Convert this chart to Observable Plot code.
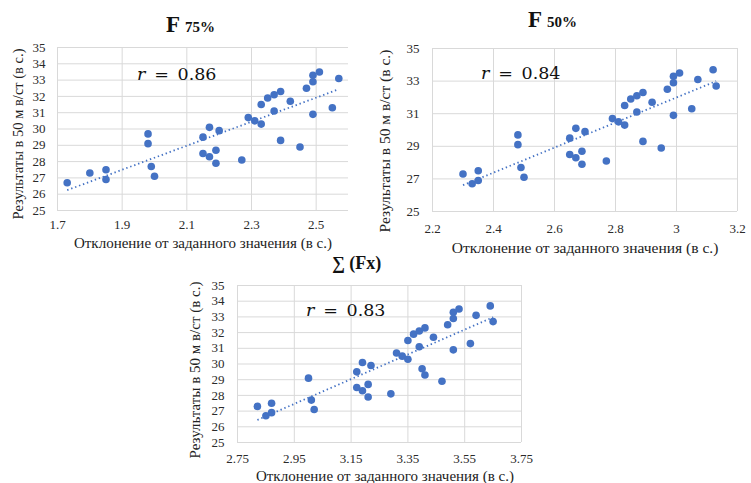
<!DOCTYPE html>
<html>
<head>
<meta charset="utf-8">
<script src="https://cdn.jsdelivr.net/npm/d3@7"></script>
<script src="https://cdn.jsdelivr.net/npm/@observablehq/plot@0.6"></script>
<style>
  body { margin: 0; background: #fff; }
  #wrap { position: relative; width: 751px; height: 483px; overflow: hidden; background: #fff; }
  #wrap svg { position: absolute; }
</style>
</head>
<body>
<div id="wrap"></div>
<script>
// Results in 50 m freestyle (s) — shared y values
const results = [27.3, 26.7, 27.5, 26.9, 29.7, 29.1, 27.7, 27.1, 29.5, 28.5, 30.1, 28.3,
                 28.7, 27.9, 29.9, 28.1, 30.7, 30.5, 30.3, 31.5, 31.9, 32.1, 31.1, 32.3,
                 29.3, 31.7, 28.9, 32.5, 33.3, 32.9, 30.9, 33.5, 31.3, 33.1, 33.7, 32.7];
// Deviation from target value (s) per test; last two F75% points lie outside the shown range
const xF75 = [1.80, 1.73, 1.85, 1.85, 1.98, 1.98, 1.99, 2.00, 2.15, 2.15, 2.17, 2.17,
              2.19, 2.19, 2.20, 2.27, 2.29, 2.31, 2.33, 2.33, 2.35, 2.37, 2.37, 2.39,
              2.39, 2.42, 2.45, 2.47, 2.49, 2.49, 2.49, 2.51, 2.55, 2.57, null, null];
const xF50 = [2.30, 2.33, 2.35, 2.35, 2.48, 2.48, 2.49, 2.50, 2.65, 2.65, 2.67, 2.67,
              2.69, 2.69, 2.70, 2.77, 2.79, 2.81, 2.83, 2.83, 2.85, 2.87, 2.87, 2.89,
              2.89, 2.92, 2.95, 2.97, 2.99, 2.99, 2.99, 3.01, 3.05, 3.07, 3.12, 3.13];
const xSum = [2.82, 2.85, 2.87, 2.87, 3.40, 3.00, 3.01, 3.02, 3.17, 3.17, 3.19, 3.19,
              3.21, 3.21, 3.22, 3.29, 3.31, 3.33, 3.35, 3.35, 3.37, 3.39, 3.39, 3.41,
              3.41, 3.44, 3.47, 3.49, 3.51, 3.51, 3.51, 3.53, 3.57, 3.59, 3.64, 3.65];

const xTicks75 = [1.7, 1.9, 2.1, 2.3, 2.5];
const xTicks50 = [2.2, 2.4, 2.6, 2.8, 3, 3.2];
const xTicksSum = [2.75, 2.95, 3.15, 3.35, 3.55, 3.75];
const yTicksAll = [25, 26, 27, 28, 29, 30, 31, 32, 33, 34, 35];
const yTicksOdd = [25, 27, 29, 31, 33, 35];

const rValues = ["0.86", "0.84", "0.83"];
const xLabel = "Отклонение от заданного значения (в с.)";
const yLabel = "Результаты в 50 м в/ст (в с.)";

const wrap = document.getElementById("wrap");
const BLUE = "#4472C4";

function drawPanel(o) {
  const data = o.xs.map((x, i) => ({x, y: results[i]})).filter(d => d.x != null);
  const chart = Plot.plot({
    width: o.width, height: o.height,
    marginLeft: o.ml, marginRight: o.mr, marginTop: o.mt, marginBottom: o.mb,
    style: {fontFamily: "'Liberation Serif', serif", fontSize: "13px", color: "#2a2a2a", background: "transparent", overflow: "visible"},
    x: {domain: o.xDomain},
    y: {domain: [25, 35]},
    marks: [
      Plot.gridX(o.xTicks, {stroke: "#d9d9d9", strokeOpacity: 1, strokeWidth: 1}),
      Plot.gridY(o.yTicks, {stroke: "#d9d9d9", strokeOpacity: 1, strokeWidth: 1}),
      Plot.axisX(o.xTicks, {tickSize: 0, tickPadding: o.xPad, tickFormat: d => String(d), label: null, fontSize: 13}),
      Plot.axisY(o.yTicks, {tickSize: 0, tickPadding: o.yPad, tickFormat: d => String(d), label: null, fontSize: 13}),
      Plot.linearRegressionY(data, {x: "x", y: "y", ci: 0, stroke: BLUE, strokeWidth: 1.8, strokeDasharray: "1.4 2.8", strokeLinecap: "butt"}),
      Plot.dot(data, {x: "x", y: "y", r: 3.8, fill: BLUE, stroke: "none"})
    ]
  });
  chart.style.left = o.left + "px";
  chart.style.top = o.top + "px";
  wrap.appendChild(chart);
}

drawPanel({xs: xF75, xDomain: [1.7, 2.6], xTicks: xTicks75, yTicks: yTicksAll,
  left: 0, top: 30, width: 360, height: 205, ml: 57, mr: 12, mt: 17, mb: 25, xPad: 9, yPad: 12});
drawPanel({xs: xF50, xDomain: [2.2, 3.2], xTicks: xTicks50, yTicks: yTicksOdd,
  left: 375, top: 30, width: 376, height: 205, ml: 57, mr: 14, mt: 18, mb: 24, xPad: 12, yPad: 13});
drawPanel({xs: xSum, xDomain: [2.75, 3.75], xTicks: xTicksSum, yTicks: yTicksAll,
  left: 180, top: 270, width: 360, height: 190, ml: 57, mr: 19, mt: 15, mb: 18, xPad: 11, yPad: 13});

// Overlay for titles, axis labels, r annotations
const svg = d3.select(wrap).append("svg")
  .attr("width", 751).attr("height", 483)
  .style("left", "0px").style("top", "0px")
  .style("font-family", "'Liberation Serif', serif");

function title(x, y, big, small, bigSize, smallSize) {
  const t = svg.append("text").attr("x", x).attr("y", y).attr("font-weight", "bold").attr("fill", "#111");
  t.append("tspan").attr("font-size", bigSize).text(big);
  if (small) t.append("tspan").attr("font-size", smallSize).attr("dx", 5).text(small);
}
title(166, 32, "F", "75%", 23, 15);
title(528, 27, "F", "50%", 23, 15);
svg.append("text").attr("x", 332).attr("y", 269).attr("font-weight", "bold").attr("font-size", 18).attr("fill", "#111").text("∑ (Fx)");

[[203, 248, 15], [585, 253, 15.5], [385, 481, 15]].forEach(([x, y, s]) => {
  svg.append("text").attr("x", x).attr("y", y).attr("text-anchor", "middle")
    .attr("font-size", s).attr("fill", "#222").text(xLabel);
});
[[23, 134, 14.5], [390, 141, 15.5], [200, 370, 15]].forEach(([x, y, s]) => {
  svg.append("text").attr("transform", `translate(${x},${y}) rotate(-90)`).attr("text-anchor", "middle")
    .attr("font-size", s).attr("fill", "#222").text(yLabel);
});
[[137, 80], [481, 79], [306, 316]].forEach(([x, y], i) => {
  const t = svg.append("text").attr("x", x).attr("y", y).attr("font-size", 17.5)
    .attr("font-family", "'DejaVu Serif', serif").attr("fill", "#111");
  t.append("tspan").attr("font-style", "italic").text("r");
  t.append("tspan").text("\u2002=\u2002" + rValues[i]);
});
</script>
</body>
</html>
